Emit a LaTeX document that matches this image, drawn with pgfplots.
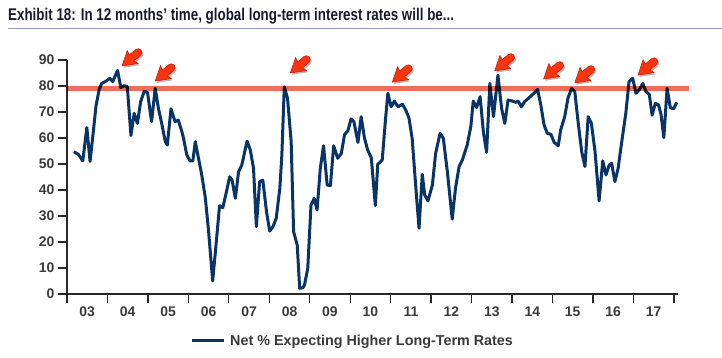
\documentclass[border=0pt]{standalone}
\usepackage{fontspec}
\setmainfont{Liberation Sans}
\newfontfamily\titlefont[FakeStretch=0.79]{Liberation Sans}
\usepackage{pgfplots}
\pgfplotsset{compat=1.18}
\definecolor{navy}{RGB}{8,52,104}
\definecolor{redline}{RGB}{242,108,92}
\definecolor{arrowred}{RGB}{250,52,14}
\definecolor{arrowdark}{RGB}{205,32,4}
\definecolor{axiscol}{RGB}{40,40,40}
\definecolor{tickcol}{RGB}{58,58,58}
\definecolor{titlecol}{RGB}{24,24,48}
\definecolor{rulecol}{RGB}{140,158,190}
\newcommand\arrowfill[1]{\fill[#1] (0,0) -- (14bp,8.5bp) -- (12.5bp,3.8bp) -- (21bp,3.8bp) arc[start angle=90,end angle=-90,radius=3.8bp] -- (12.5bp,-3.8bp) -- (14bp,-8.5bp) -- cycle;}
\newcommand\callout[1]{%
  \begin{scope}[shift={(#1)},rotate=40]
    \begin{scope}[shift={(0bp,-2.3bp)}]\arrowfill{black,opacity=0.28}\end{scope}
    \arrowfill{arrowred,draw=arrowdark,line width=0.6bp,line join=round}
  \end{scope}}
\pgfplotstableread{
x y
2003.17 54.7
2003.28 53.7
2003.39 51.2
2003.49 64
2003.57 51
2003.64 61
2003.72 72.7
2003.80 79
2003.86 81
2003.98 82
2004.06 83
2004.13 81.7
2004.25 86
2004.33 79.4
2004.41 80.1
2004.49 79.8
2004.58 61
2004.66 69.5
2004.74 65.6
2004.82 74
2004.91 78
2004.99 77.5
2005.09 66.3
2005.18 79.1
2005.26 71.4
2005.34 65.6
2005.43 58.6
2005.48 57.3
2005.57 71.2
2005.67 66.3
2005.75 66.9
2005.84 62.4
2005.88 59.9
2005.96 53.5
2006.04 51.2
2006.11 51.2
2006.17 58.6
2006.25 52.2
2006.33 45.8
2006.42 36.8
2006.50 24
2006.60 5
2006.69 20.1
2006.77 34
2006.85 33.2
2006.94 39.3
2007.02 45.1
2007.08 43.8
2007.16 36.8
2007.24 47
2007.32 49.6
2007.45 58.8
2007.53 55.4
2007.61 48.3
2007.68 25.9
2007.76 43.2
2007.84 43.8
2007.93 31.7
2008.01 24.2
2008.09 25.9
2008.17 29.1
2008.26 40.6
2008.31 53.5
2008.37 79.7
2008.45 75.3
2008.54 58.6
2008.60 24
2008.69 18.8
2008.75 2.2
2008.83 2.4
2008.87 3.5
2008.95 9.9
2009.03 34.2
2009.11 36.8
2009.18 32.3
2009.26 48.3
2009.34 57
2009.43 41.9
2009.51 41.7
2009.59 57
2009.69 52.2
2009.78 54.1
2009.86 61.4
2009.94 62.7
2010.02 67.3
2010.09 66.3
2010.19 58.3
2010.27 68.2
2010.35 60.1
2010.43 55.4
2010.52 52.4
2010.62 34
2010.68 49.9
2010.79 51.5
2010.87 66.9
2010.93 77.2
2011.01 72
2011.09 74.2
2011.18 72
2011.29 73
2011.37 70.8
2011.45 67.8
2011.53 59.9
2011.61 43.2
2011.70 25.3
2011.78 46
2011.84 38.1
2011.92 35.8
2012.03 41.9
2012.11 54.1
2012.22 61.8
2012.30 59.9
2012.40 47
2012.52 28.8
2012.60 40.6
2012.69 49
2012.77 51.5
2012.89 57.3
2012.98 64.4
2013.04 74.2
2013.12 71.7
2013.21 75.9
2013.29 62.4
2013.37 54.5
2013.45 81
2013.54 68.2
2013.65 84.2
2013.74 71.4
2013.82 65.6
2013.90 74.6
2014.01 74.2
2014.09 73.7
2014.15 74.2
2014.23 72
2014.31 74
2014.42 75.5
2014.54 77.2
2014.63 78.7
2014.71 72.7
2014.79 65
2014.87 61.8
2014.96 61.4
2015.04 58.3
2015.14 57
2015.20 63.1
2015.30 68.2
2015.38 75.3
2015.47 79.1
2015.55 77.8
2015.63 66.3
2015.72 54.7
2015.80 49
2015.88 68.2
2015.96 65.6
2016.05 54.7
2016.15 35.8
2016.24 51.2
2016.32 45.8
2016.40 49.6
2016.46 50.3
2016.54 43.2
2016.62 48.3
2016.71 58.6
2016.81 69.5
2016.89 81.7
2016.98 83
2017.06 77.2
2017.14 78.5
2017.23 81
2017.31 77.8
2017.39 76.8
2017.46 68.8
2017.54 73.3
2017.62 72.7
2017.68 69.1
2017.75 60.1
2017.83 79.1
2017.91 71.7
2017.99 71.2
2018.07 73.7
}\datatable
\begin{document}
\begin{tikzpicture}
\path[use as bounding box] (0,0) rectangle (722bp,358bp);
\node[anchor=base west, inner sep=0pt, text=titlecol, font=\titlefont\bfseries\fontsize{17}{17}\selectfont] at (8bp,337bp) {Exhibit 18: In 12 months’ time, global long-term interest rates will be...};
\draw[line width=1.3bp, color=rulecol] (8bp,329.5bp) -- (722bp,329.5bp);
\begin{axis}[
  at={(67bp,64bp)}, anchor=south west,
  scale only axis, width=611bp, height=234bp,
  xmin=2003, xmax=2018.1, ymin=0, ymax=90,
  clip=false,
  axis lines=left,
  axis line style={-, line width=1.3bp, color=axiscol},
  tick align=outside, major tick length=9bp,
  tick style={line width=1.3bp, color=axiscol},
  xtick={2003,...,2018},
  x tick label as interval,
  xticklabels={03,04,05,06,07,08,09,10,11,12,13,14,15,16,17},
  ytick={0,10,...,90},
  /pgf/number format/assume math mode=true,
  tick label style={font=\bfseries\fontsize{14}{14}\selectfont, text=tickcol},
  legend style={at={(0.2013,-0.1996)}, anchor=west, draw=none, fill=none, inner sep=0pt,
    font=\bfseries\fontsize{14.4}{14.4}\selectfont, text=tickcol,
    nodes={inner sep=0pt},
    /tikz/every odd column/.append style={column sep=5bp}},
  legend image code/.code={\draw[#1] (0bp,0bp) -- (32bp,0bp);},
]
\addplot[navy, line width=3bp, line join=round] table[x=x,y=y] {\datatable};
\addlegendentry{Net \% Expecting Higher Long-Term Rates}
\addplot[forget plot, draw=redline, line width=5.5bp, blend mode=multiply] coordinates {(2003,79.1) (2018.38,79.1)};
\coordinate (a1) at (axis cs:2004.36,87.7);
\coordinate (a2) at (axis cs:2005.18,81.9);
\coordinate (a3) at (axis cs:2008.52,85.0);
\coordinate (a4) at (axis cs:2011.04,81.5);
\coordinate (a5) at (axis cs:2013.57,85.8);
\coordinate (a6) at (axis cs:2014.78,82.7);
\coordinate (a7) at (axis cs:2015.55,81.2);
\coordinate (a8) at (axis cs:2017.11,84.2);
\end{axis}
\callout{a1}\callout{a2}\callout{a3}\callout{a4}
\callout{a5}\callout{a6}\callout{a7}\callout{a8}
\end{tikzpicture}
\end{document}
